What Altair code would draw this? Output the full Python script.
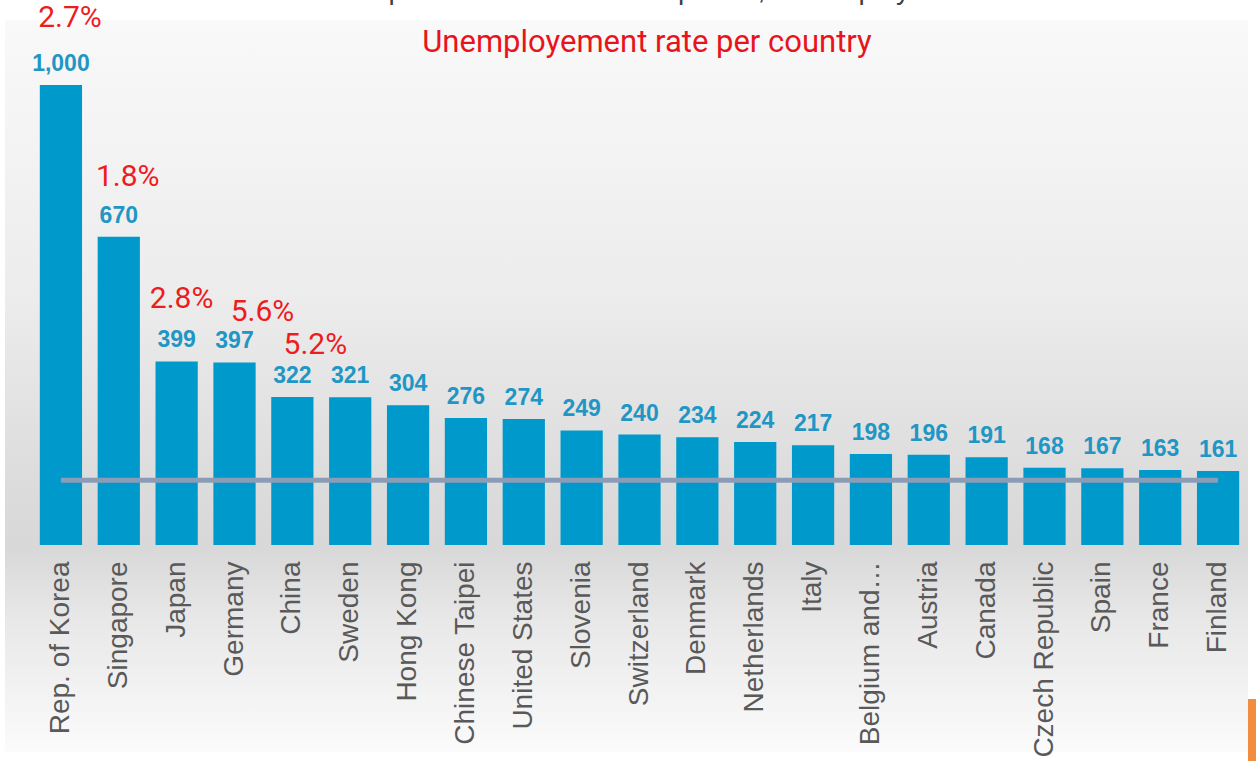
import altair as alt
import pandas as pd

countries = ["Rep. of Korea", "Singapore", "Japan", "Germany", "China", "Sweden",
             "Hong Kong", "Chinese Taipei", "United States", "Slovenia", "Switzerland",
             "Denmark", "Netherlands", "Italy", "Belgium and\u2026", "Austria", "Canada",
             "Czech Republic", "Spain", "France", "Finland"]
density = [1000, 670, 399, 397, 322, 321, 304, 276, 274, 249, 240, 234, 224, 217,
           198, 196, 191, 168, 167, 163, 161]
world_average = 141

annot_countries = ["Rep. of Korea", "Singapore", "Japan", "Germany", "China"]
annot_rates = ["2.7%", "1.8%", "2.8%", "5.6%", "5.2%"]

title_text = "Unemployement rate per country"
top_title_text = "Top 20: number of robots per 10,000 employees"

# style: per-annotation pixel offsets (dx, dy)
annot_offsets = [(9, -67), (9, -60), (5, -62), (28, -50), (23, -52)]

W, H = 1215, 460
LEFT, TOP = 32, 85

df = pd.DataFrame({"country": countries, "density": density})
df["avg"] = world_average

x_enc = alt.X("country:N", sort=countries,
              scale=alt.Scale(paddingInner=0.27, paddingOuter=0.135),
              axis=alt.Axis(title=None, labelAngle=-90, labelAlign="right",
                            labelBaseline="middle", labelPadding=16, ticks=False,
                            domain=False, labelFont="Liberation Sans", zindex=1,
                            labelFontSize=28, labelColor="#595959", labelLimit=400))
y_scale = alt.Scale(domain=[0, 1000], nice=False, zero=True)
y_enc = alt.Y("density:Q", scale=y_scale, axis=None)

bg_grad = alt.Gradient(
    gradient="linear", x1=0, x2=0, y1=0, y2=1,
    stops=[alt.GradientStop(color="#f9f9f9", offset=0),
           alt.GradientStop(color="#ececec", offset=0.38),
           alt.GradientStop(color="#dcdcdc", offset=0.63),
           alt.GradientStop(color="#d8d8d8", offset=0.72),
           alt.GradientStop(color="#e8e8e8", offset=0.82),
           alt.GradientStop(color="#fbfbfb", offset=1)])

background = alt.Chart(pd.DataFrame({"a": [0]})).mark_rect(color=bg_grad).encode(
    x=alt.value(5 - LEFT), x2=alt.value(1248 - LEFT),
    y=alt.value(20 - TOP), y2=alt.value(752 - TOP))

orange = alt.Chart(pd.DataFrame({"a": [0]})).mark_rect(color="#f28c3e").encode(
    x=alt.value(1248 - LEFT), x2=alt.value(1256 - LEFT),
    y=alt.value(699 - TOP), y2=alt.value(761 - TOP))

base = alt.Chart(df)

bars = base.mark_bar(color="#0099cc").encode(x=x_enc, y=y_enc)

labels = base.mark_text(font="Liberation Sans", fontSize=23, fontWeight="bold",
                        color="#1f96c4", baseline="middle", dy=-21).encode(
    x=alt.X("country:N", sort=countries), y=y_enc,
    text=alt.Text("density:Q", format=","))

avg_line = base.mark_line(color="#8d9cb6", strokeWidth=5).encode(
    x=alt.X("country:N", sort=countries),
    y=alt.Y("avg:Q", scale=y_scale, axis=None))

annots = []
for c, r, (dx, dy) in zip(annot_countries, annot_rates, annot_offsets):
    v = density[countries.index(c)]
    d = pd.DataFrame({"country": [c], "density": [v], "rate": [r]})
    annots.append(alt.Chart(d).mark_text(font="Roboto", fontSize=30, color="#ee1c1c",
                                         baseline="middle", dx=dx, dy=dy).encode(
        x=alt.X("country:N", sort=countries), y=y_enc, text="rate:N"))

title = alt.Chart(pd.DataFrame({"t": [title_text]})).mark_text(
    font="Roboto", fontSize=31, color="#e8141c", baseline="alphabetic", align="center").encode(
    x=alt.value(647 - LEFT), y=alt.value(52 - TOP), text="t:N")

top_title = alt.Chart(pd.DataFrame({"t": [top_title_text]})).mark_text(
    font="Liberation Sans", fontSize=28, color="#404040", baseline="alphabetic", align="center").encode(
    x=alt.value(657 - LEFT), y=alt.value(-1 - TOP), text="t:N")

chart = alt.layer(background, orange, bars, avg_line, labels, *annots, title, top_title).properties(
    width=W, height=H,
    autosize=alt.AutoSizeParams(type="none"),
    padding={"left": LEFT, "top": TOP, "right": 1256 - LEFT - W, "bottom": 761 - TOP - H},
    background="white",
).configure_view(stroke=None)

chart.save("out.html", embed_options={"renderer": "svg", "actions": False})
